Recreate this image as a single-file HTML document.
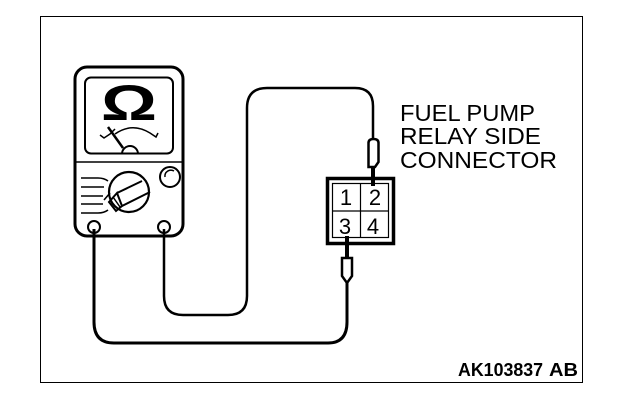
<!DOCTYPE html>
<html><head><meta charset="utf-8"><style>html,body{margin:0;padding:0;background:#fff}svg{display:block}</style></head>
<body>
<svg width="624" height="400" viewBox="0 0 624 400" xmlns="http://www.w3.org/2000/svg">
<rect x="40.5" y="16.5" width="542" height="366" fill="none" stroke="#000" stroke-width="1"/>
<g fill="none" stroke="#000" stroke-linecap="butt">
<!-- meter -->
<rect x="75" y="67" width="108" height="169" rx="12" stroke-width="3"/>
<rect x="85" y="77.5" width="88" height="76" rx="6" stroke-width="2"/>
<path d="M75 162H183" stroke-width="1.5"/>
<path d="M100 135l4 3 6-4 5-5" stroke-width="1.500"/>
<path d="M115 134Q132 122 150 133l6 4 2-4" stroke-width="1.500"/>
<path d="M108 127L123 148" stroke-width="2.500"/>
<path d="M122 154a8 8 0 0 1 16 0" stroke-width="2"/>
<circle cx="129" cy="192" r="20" stroke-width="2.200"/>
<circle cx="170" cy="177" r="10" stroke-width="2"/>
<path d="M165 177a6 6 0 0 1 9-6" stroke-width="1.500"/>
<path d="M117 193L142 181M122 206L150 192" stroke-width="2"/>
<path d="M117 193L109 202L116 211L122 206Z" stroke-width="2"/>
<path d="M113 197L120 207" stroke-width="1.500"/>
<path d="M81 178H98Q104 178 108 181M81 187H104M81 196H103M81 204H103M81 213H98Q104 213 108 210M104 200L110 193" stroke-width="1.600"/>
<circle cx="94" cy="227" r="6" stroke-width="2"/>
<circle cx="164" cy="227" r="6" stroke-width="2"/>
<!-- wires -->
<path d="M94 229V322Q94 343 114 343H328Q347 343 347 322V283" stroke-width="3"/>
<path d="M164 229V296Q164 315 183 315H228Q247 315 247 296V108Q247 88 267 88H355Q373 88 373 106V138" stroke-width="2.500"/>
<!-- probes -->
<path d="M368.500 165V143Q368.500 139 373.500 139Q378.500 139 378.500 143V162L375 167H368.500Z" fill="#fff" stroke-width="2.500"/>
<path d="M373 167V186" stroke-width="4"/>
<path d="M342 258H352V276L347 283L342 276Z" fill="#fff" stroke-width="2.500"/>
<path d="M347 236V258" stroke-width="4"/>
<!-- connector -->
<rect x="327.500" y="178.500" width="66" height="65" stroke-width="3.500"/>
<rect x="332.500" y="183.500" width="56" height="54" stroke-width="1.200"/>
<path d="M360.500 183.500V237.500M332.500 211H388.500" stroke-width="1.200"/>
</g>
<g font-family="'Liberation Sans',sans-serif" fill="#000">
<text x="101" y="120" font-size="50" font-weight="700" textLength="56" lengthAdjust="spacingAndGlyphs">Ω</text>
<text x="400" y="121" font-size="23" textLength="135" lengthAdjust="spacingAndGlyphs">FUEL PUMP</text>
<text x="400" y="144" font-size="23" textLength="141" lengthAdjust="spacingAndGlyphs">RELAY SIDE</text>
<text x="400" y="168" font-size="23" textLength="157" lengthAdjust="spacingAndGlyphs">CONNECTOR</text>
<text x="346" y="205" font-size="22" text-anchor="middle">1</text>
<text x="375" y="205" font-size="22" text-anchor="middle">2</text>
<text x="345" y="234" font-size="22" text-anchor="middle">3</text>
<text x="373" y="234" font-size="22" text-anchor="middle">4</text>
<text x="458" y="376" font-size="18" font-weight="700" textLength="85" lengthAdjust="spacingAndGlyphs">AK103837</text>
<text x="549" y="376" font-size="18" font-weight="700" textLength="29" lengthAdjust="spacingAndGlyphs">AB</text>
</g>
</svg>
</body></html>
